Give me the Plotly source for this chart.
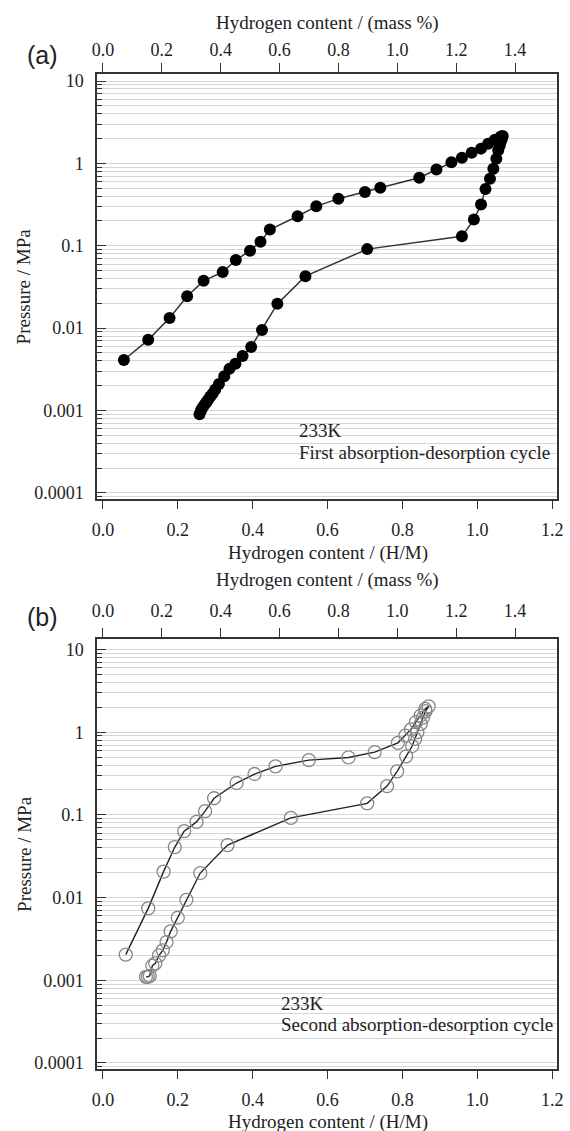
import plotly.graph_objects as go

# ---------------- data ----------------
# Panel (a): first absorption-desorption cycle (H/M, MPa)
x_a_abs = [0.056, 0.121, 0.178, 0.225, 0.269, 0.320, 0.355, 0.393, 0.421, 0.446, 0.520, 0.570,
           0.629, 0.700, 0.741, 0.845, 0.891, 0.931, 0.959, 0.985, 1.010, 1.029, 1.047, 1.063]
p_a_abs = [0.0041, 0.0072, 0.0133, 0.0244, 0.0375, 0.048, 0.067, 0.087, 0.112, 0.157, 0.228, 0.301,
           0.373, 0.449, 0.507, 0.670, 0.84, 1.03, 1.17, 1.35, 1.51, 1.73, 1.94, 2.12]
x_a_des = [1.068, 1.066, 1.063, 1.060, 1.056, 1.051, 1.043, 1.034, 1.022, 1.010, 0.991, 0.959,
           0.706, 0.541, 0.466, 0.425, 0.396, 0.373, 0.354, 0.338, 0.324, 0.310, 0.300, 0.293,
           0.287, 0.281, 0.276, 0.271, 0.266, 0.262, 0.258]
p_a_des = [2.15, 2.0, 1.85, 1.65, 1.44, 1.14, 0.86, 0.65, 0.49, 0.316, 0.208, 0.130,
           0.091, 0.0427, 0.0197, 0.0095, 0.0059, 0.0046, 0.0037, 0.0032, 0.0026, 0.0021, 0.0018, 0.0016,
           0.00148, 0.00135, 0.00125, 0.00117, 0.00108, 0.00100, 0.00090]

# Panel (b): second absorption-desorption cycle
x_b_abs = [0.061, 0.121, 0.162, 0.192, 0.217, 0.250, 0.273, 0.297, 0.357, 0.405, 0.461, 0.550,
           0.656, 0.726, 0.788, 0.808, 0.823, 0.836, 0.849, 0.861, 0.870]
p_b_abs = [0.00204, 0.0074, 0.0206, 0.0408, 0.0636, 0.0823, 0.111, 0.159, 0.243, 0.312, 0.386, 0.46,
           0.495, 0.574, 0.743, 0.91, 1.08, 1.32, 1.59, 1.91, 2.05]
x_b_des = [0.862, 0.855, 0.849, 0.840, 0.834, 0.826, 0.810, 0.786, 0.759, 0.706, 0.502, 0.333,
           0.260, 0.223, 0.200, 0.181, 0.170, 0.160, 0.150, 0.140, 0.132, 0.125, 0.120, 0.115]
p_b_des = [1.80, 1.5, 1.26, 1.0, 0.83, 0.68, 0.51, 0.336, 0.223, 0.138, 0.092, 0.0431,
           0.0198, 0.0094, 0.0057, 0.0039, 0.0029, 0.0023, 0.0020, 0.0016, 0.0015, 0.00113, 0.00110, 0.00110]

x_ticks = [0.0, 0.2, 0.4, 0.6, 0.8, 1.0, 1.2]
mass_ticks = [0.0, 0.2, 0.4, 0.6, 0.8, 1.0, 1.2, 1.4]
y_ticks = [10, 1, 0.1, 0.01, 0.001, 0.0001]
y_ticktext = ["10", "1", "0.1", "0.01", "0.001", "0.0001"]
mass_per_hm = 1.2715  # conversion H/M -> mass %

# ---------------- figure ----------------
SERIF = "Liberation Serif, Times New Roman, serif"
FONT = dict(family=SERIF, size=18, color="#222")
x_range = [-0.0158, 1.213]
y_range_a = [-4.073, 1.085]
y_range_b = [-4.073, 1.125]

fig = go.Figure()

fig.add_trace(go.Scatter(
    x=x_a_abs + x_a_des, y=p_a_abs + p_a_des, xaxis="x", yaxis="y",
    mode="lines+markers", line=dict(color="#333", width=1.5),
    marker=dict(symbol="circle", size=12, color="#000"), showlegend=False))

fig.add_trace(go.Scatter(
    x=x_b_abs + x_b_des, y=p_b_abs + p_b_des, xaxis="x3", yaxis="y2",
    mode="lines+markers", line=dict(color="#222", width=1.4),
    marker=dict(symbol="circle-open", size=13, color="#888", line=dict(width=1.3)),
    showlegend=False))

# invisible companions so that the top (mass %) axes are drawn
fig.add_trace(go.Scatter(
    x=[v * mass_per_hm for v in x_a_abs], y=p_a_abs, xaxis="x2", yaxis="y",
    mode="markers", marker=dict(opacity=0), hoverinfo="skip", showlegend=False))
fig.add_trace(go.Scatter(
    x=[v * mass_per_hm for v in x_b_abs], y=p_b_abs, xaxis="x4", yaxis="y2",
    mode="markers", marker=dict(opacity=0), hoverinfo="skip", showlegend=False))

grid = "#d6d6d6"

def xbottom(anchor):
    return dict(range=x_range, anchor=anchor, tickvals=x_ticks, tickformat=".1f",
                ticks="outside", ticklen=8, tickwidth=1.3, tickcolor="#333",
                showline=True, mirror=True, linecolor="#333", linewidth=1.5,
                showgrid=False, zeroline=False, tickfont=FONT, ticklabelstandoff=6)

def xtop(overlay, anchor, standoff):
    return dict(range=[x_range[0] * mass_per_hm, x_range[1] * mass_per_hm], overlaying=overlay,
                anchor=anchor, side="top", tickvals=mass_ticks, tickformat=".1f",
                ticks="outside", ticklen=10, tickwidth=1.3, tickcolor="#333",
                showline=False, showgrid=False, zeroline=False, tickfont=FONT,
                ticklabelstandoff=standoff)

def yaxis(domain, anchor, rng):
    return dict(type="log", range=rng, domain=domain, anchor=anchor,
                tickvals=y_ticks, ticktext=y_ticktext, ticks="inside", ticklen=9,
                tickwidth=1.3, tickcolor="#333", showline=True, mirror=True,
                linecolor="#333", linewidth=1.5, showgrid=True, gridcolor=grid, gridwidth=1,
                zeroline=False, tickfont=FONT, ticklabelstandoff=8,
                minor=dict(dtick="D1", ticks="inside", ticklen=5, tickcolor="#333",
                           showgrid=True, gridcolor=grid, gridwidth=1))

fig.update_layout(
    width=570, height=1131,
    margin=dict(l=97, r=7, t=74, b=62),
    paper_bgcolor="white", plot_bgcolor="white",
    font=FONT,
    xaxis=xbottom("y"),
    xaxis2=xtop("x", "y", 0),
    xaxis3=xbottom("y2"),
    xaxis4=xtop("x3", "y2", 4),
    yaxis=yaxis([0.573, 1.0], "x", y_range_a),
    yaxis2=yaxis([0.0, 0.432], "x3", y_range_b),
)

ann = []
def txt(text, x, y, xanchor="center", size=19, family=SERIF, angle=0):
    ann.append(dict(text=text, x=x, y=y, xref="paper", yref="paper", xanchor=xanchor,
                    yanchor="middle", showarrow=False, textangle=angle,
                    font=dict(family=family, size=size, color="#222")))

# panel (a)
txt("Hydrogen content / (mass %)", 0.502, 1.0513)
txt("(a)", -0.118, 1.019, size=25, family="Liberation Sans, Arial, sans-serif")
txt("Hydrogen content / (H/M)", 0.502, 0.5186)
txt("Pressure / MPa", -0.159, 0.7864, angle=-90)
txt("233K", 0.4356, 0.642, xanchor="left")
txt("First absorption-desorption cycle", 0.4356, 0.620, xanchor="left")
# panel (b)
txt("Hydrogen content / (mass %)", 0.502, 0.4915)
txt("(b)", -0.118, 0.4545, size=25, family="Liberation Sans, Arial, sans-serif")
txt("Hydrogen content / (H/M)", 0.502, -0.0533)
txt("Pressure / MPa", -0.159, 0.216, angle=-90)
txt("233K", 0.395, 0.0663, xanchor="left")
txt("Second absorption-desorption cycle", 0.395, 0.0452, xanchor="left")

fig.update_layout(annotations=ann)
fig.write_html("out.html")
